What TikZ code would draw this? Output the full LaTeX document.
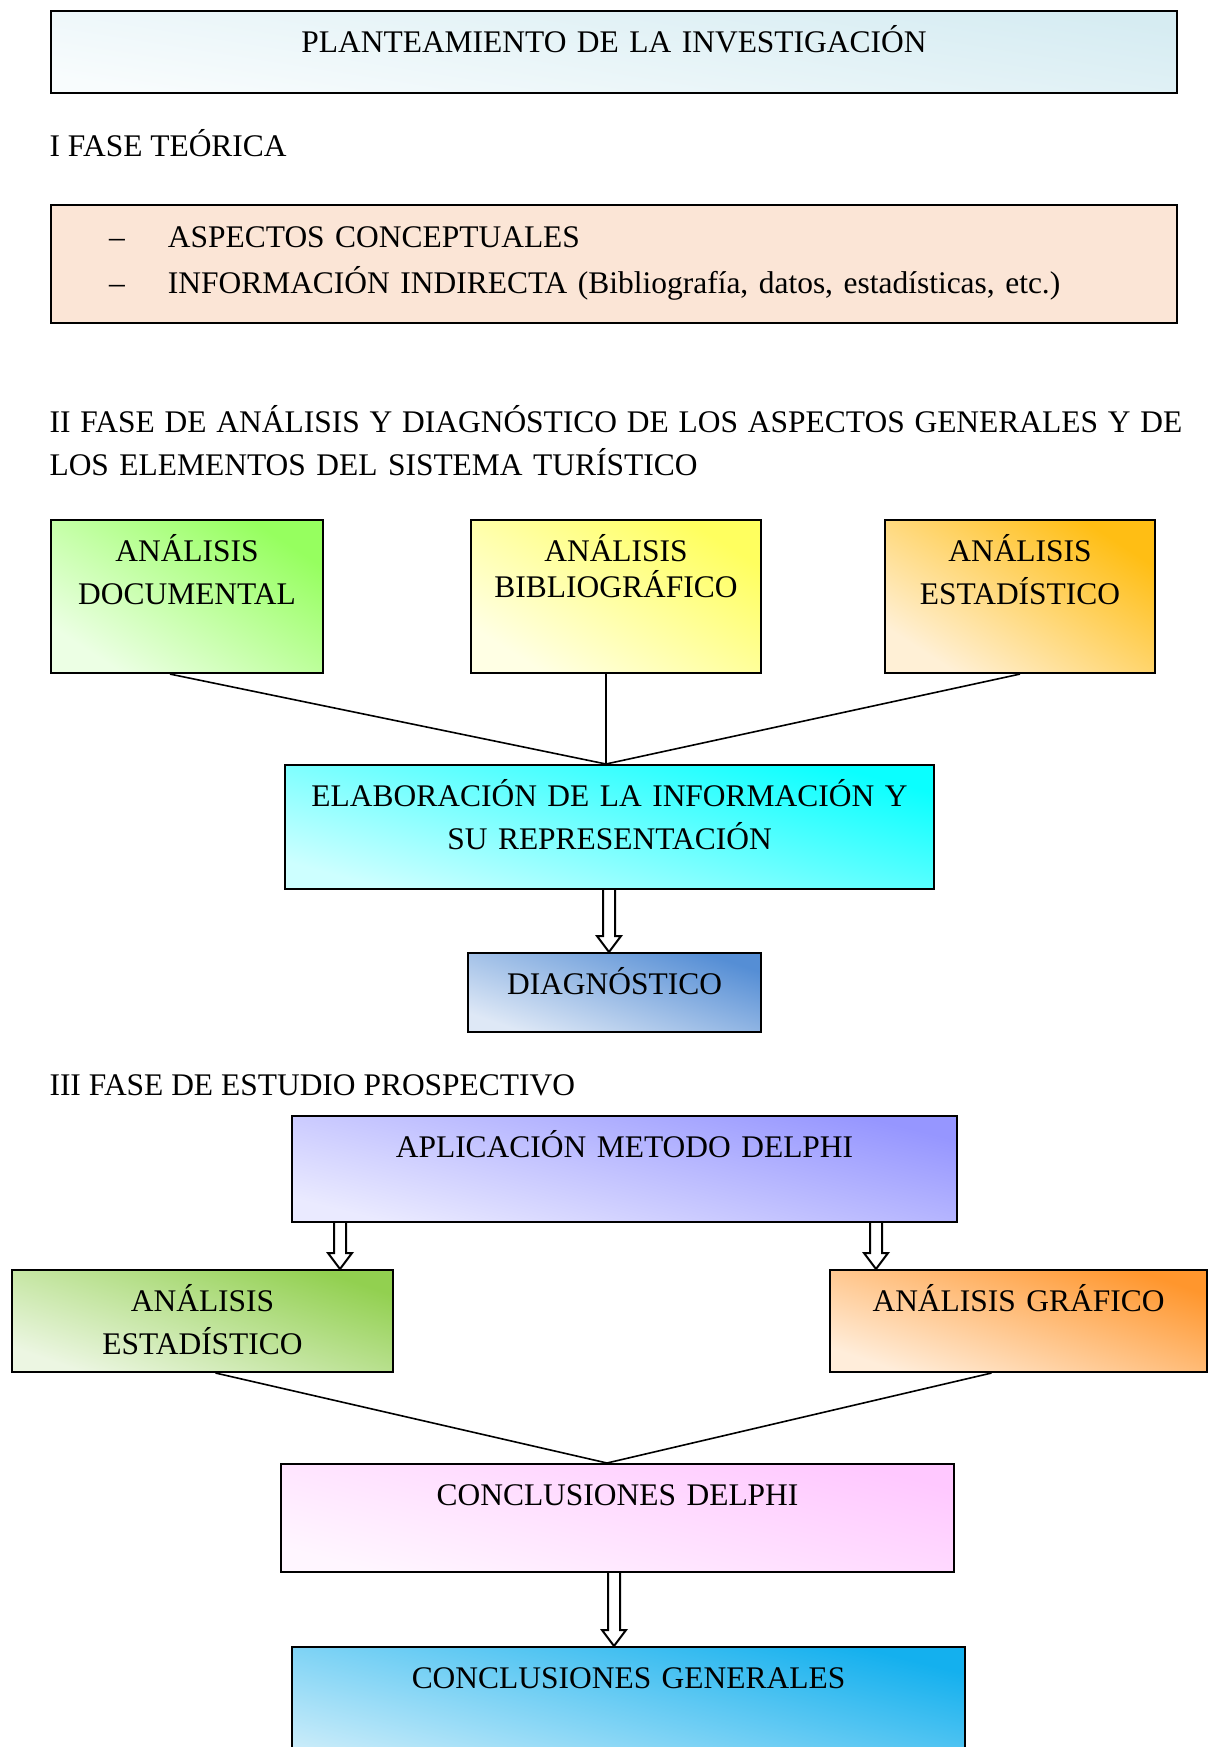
\documentclass[tikz,border=0pt]{standalone}
\usepackage{fontspec}
\setmainfont{Liberation Serif}
\usepackage{tikz}
\usetikzlibrary{calc}
\definecolor{planlo}{RGB}{248,252,253}
\definecolor{planhi}{RGB}{214,236,242}
\definecolor{teorbg}{RGB}{251,229,214}
\definecolor{doclo}{RGB}{236,255,228}
\definecolor{dochi}{RGB}{150,255,95}
\definecolor{biblo}{RGB}{255,255,228}
\definecolor{bibhi}{RGB}{255,255,95}
\definecolor{estlo}{RGB}{255,240,214}
\definecolor{esthi}{RGB}{255,190,20}
\definecolor{elablo}{RGB}{205,255,255}
\definecolor{elabhi}{RGB}{10,255,255}
\definecolor{diaglo}{RGB}{222,232,246}
\definecolor{diaghi}{RGB}{85,142,213}
\definecolor{delphilo}{RGB}{234,234,255}
\definecolor{delphihi}{RGB}{150,150,255}
\definecolor{statlo}{RGB}{236,246,226}
\definecolor{stathi}{RGB}{146,208,80}
\definecolor{graflo}{RGB}{255,237,218}
\definecolor{grafhi}{RGB}{255,150,45}
\definecolor{concdlo}{RGB}{255,246,255}
\definecolor{concdhi}{RGB}{255,200,255}
\definecolor{concglo}{RGB}{205,237,250}
\definecolor{concghi}{RGB}{20,176,238}

\begin{document}
\begin{tikzpicture}[x=0.375pt, y=-0.375pt, font=\fontsize{11.8}{16.3}\selectfont,
		box/.style={draw, line width=0.75pt, anchor=north west, inner sep=0pt, align=center, text height=15.4pt, text width=#1},
		grad/.style n args={3}{bottom color=#1, top color=#2, shading angle=#3},
		link/.style={line width=0.6pt},
		hollow/.style={line width=0.75pt, fill=white, to path={($(\tikztostart)+(-6,0)$) -- ($(\tikztotarget)+(-6,-16)$) -- ($(\tikztotarget)+(-12,-16)$) -- (\tikztotarget) -- ($(\tikztotarget)+(12,-16)$) -- ($(\tikztotarget)+(6,-16)$) -- ($(\tikztostart)+(6,0)$)}}]
				\path[use as bounding box, fill=white] (0,0) rectangle (1209,1747);
				\node[box=422.25pt, grad={planlo}{planhi}{-9}, text depth=15.35pt] (plan) at (50,10) {PLANTEAMIENTO DE LA INVESTIGACIÓN};
				\node[anchor=base west, inner sep=0pt] (fase1) at (49,156) {I FASE TEÓRICA};
				\node[box=378.75pt, fill=teorbg, inner xsep=21.75pt, align=left, text height=15.75pt, text depth=28.5pt] (teor) at (50,204) {\makebox[22.1pt][l]{–}ASPECTOS CONCEPTUALES\\[1pt]\makebox[22.1pt][l]{–}INFORMACIÓN INDIRECTA (Bibliografía, datos, estadísticas, etc.)};
				\node[anchor=base west, inner sep=0pt, text width=430pt, align=left] (fase2) at (49,432) {{\spaceskip=3.68pt\relax II FASE DE ANÁLISIS Y DIAGNÓSTICO DE LOS ASPECTOS GENERALES Y DE}\\LOS ELEMENTOS DEL SISTEMA TURÍSTICO};
				\node[box=102pt, grad={doclo}{dochi}{-33}, text depth=42pt] (doc) at (50,519) {ANÁLISIS\\DOCUMENTAL};
				\node[box=108.75pt, grad={biblo}{bibhi}{-32}, text depth=42pt] (bib) at (470,519) {ANÁLISIS\\[-2.5pt]BIBLIOGRÁFICO};
				\node[box=101.25pt, grad={estlo}{esthi}{-33}, text depth=42pt] (est) at (884,519) {ANÁLISIS\\ESTADÍSTICO};
				\node[box=243.4pt, grad={elablo}{elabhi}{-15}, text depth=31.1pt] (elab) at (284,764) {ELABORACIÓN DE LA INFORMACIÓN Y\\SU REPRESENTACIÓN};
				\node[box=109.9pt, grad={diaglo}{diaghi}{-19}, text depth=14.2pt] (diag) at (467,952) {DIAGNÓSTICO};
				\node[anchor=base west, inner sep=0pt] (fase3) at (49,1095) {III FASE DE ESTUDIO PROSPECTIVO};
				\node[box=249.4pt, grad={delphilo}{delphihi}{-14}, text depth=24.35pt] (delphi) at (291,1115) {APLICACIÓN METODO DELPHI};
				\node[box=142.9pt, grad={statlo}{stathi}{-19}, text depth=22.85pt] (stat) at (11,1269) {ANÁLISIS\\ESTADÍSTICO};
				\node[box=141.4pt, grad={graflo}{grafhi}{-19}, text depth=22.85pt] (graf) at (829,1269) {ANÁLISIS GRÁFICO};
				\node[box=252.4pt, grad={concdlo}{concdhi}{-14}, text depth=25.1pt] (concd) at (280,1463) {CONCLUSIONES DELPHI};
				\node[box=252.4pt, grad={concglo}{concghi}{-14}, text depth=33.35pt] (concg) at (291,1646) {CONCLUSIONES GENERALES};
				\coordinate (join1) at (606,0 |- elab.north);
				\coordinate (join2) at (607,0 |- concd.north);
				\draw[link] ($(doc.south)+(-17,0)$) -- (join1);
				\draw[link] (606,0 |- bib.south) -- (join1);
				\draw[link] (est.south) -- (join1);
				\draw[link] ($(stat.south)+(13,0)$) -- (join2);
				\draw[link] ($(graf.south)+(-27,0)$) -- (join2);
				\draw[hollow] (609,0 |- elab.south) to (609,0 |- diag.north);
				\draw[hollow] (340,0 |- delphi.south) to (340,0 |- stat.north);
				\draw[hollow] (876,0 |- delphi.south) to (876,0 |- graf.north);
				\draw[hollow] (614,0 |- concd.south) to (614,0 |- concg.north);
			\end{tikzpicture}
\end{document}
